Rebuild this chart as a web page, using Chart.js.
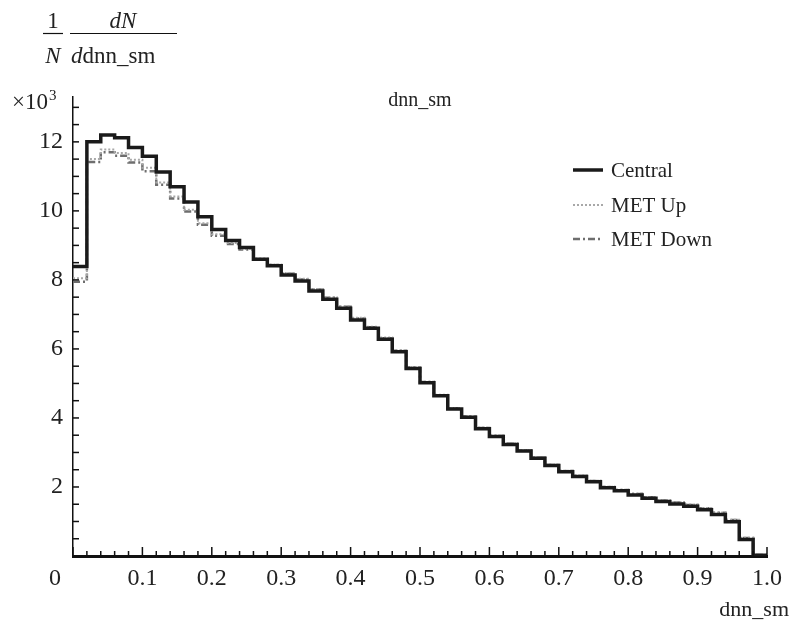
<!DOCTYPE html>
<html>
<head>
<meta charset="utf-8">
<script src="https://cdn.jsdelivr.net/npm/chart.js@4"></script>
<style>
  html, body { margin: 0; padding: 0; background: #fff; }
  #wrap { width: 790px; height: 626px; }
</style>
</head>
<body>
<div id="wrap"><canvas id="chart" width="790" height="626"></canvas></div>
<script>
// 50 bins of width 0.02 on [0, 1]
const binWidth = 0.02;

// per-bin content
const central = [
  8390, 12000, 12200, 12120, 11840, 11580, 11130, 10700, 10260, 9830,
  9460, 9140, 8940, 8600, 8410, 8140, 7970, 7680, 7440, 7180,
  6840, 6600, 6280, 5920, 5430, 5020, 4640, 4260, 4020, 3690,
  3460, 3230, 3040, 2830, 2620, 2440, 2300, 2150, 1980, 1890,
  1770, 1670, 1580, 1510, 1440, 1340, 1200, 990, 480, 20
];
const metUp = [
  8050, 11500, 11780, 11680, 11480, 11250, 10820, 10420, 10030, 9640,
  9320, 9070, 8900, 8620, 8450, 8200, 8030, 7740, 7500, 7240,
  6900, 6640, 6330, 5960, 5470, 5050, 4670, 4290, 4050, 3720,
  3490, 3260, 3070, 2860, 2650, 2470, 2330, 2180, 2010, 1920,
  1810, 1710, 1620, 1560, 1490, 1390, 1260, 1050, 530, 30
];
const metDown = [
  7950, 11420, 11700, 11600, 11400, 11150, 10760, 10360, 9980, 9600,
  9280, 9040, 8880, 8600, 8430, 8180, 8010, 7720, 7480, 7220,
  6880, 6630, 6310, 5950, 5460, 5040, 4660, 4280, 4040, 3710,
  3480, 3250, 3060, 2850, 2640, 2460, 2320, 2170, 2000, 1910,
  1800, 1700, 1610, 1550, 1480, 1380, 1250, 1040, 520, 30
];

const xTicks = [0, 0.1, 0.2, 0.3, 0.4, 0.5, 0.6, 0.7, 0.8, 0.9, 1.0];
const yTicks = [2000, 4000, 6000, 8000, 10000, 12000];

const serif = "'Liberation Serif', 'DejaVu Serif', serif";

// histogram -> points at the bin edges, last edge repeats the last bin
function steps(vals) {
  const pts = vals.map((v, i) => ({ x: i * binWidth, y: v }));
  pts.push({ x: vals.length * binWidth, y: vals[vals.length - 1] });
  return pts;
}

const decor = {
  id: 'decor',
  afterDraw(chart) {
    const ctx = chart.ctx;
    const xs = chart.scales.x, ys = chart.scales.y;
    const area = chart.chartArea;
    ctx.save();
    ctx.strokeStyle = '#111';
    ctx.lineWidth = 1.5;
    ctx.setLineDash([]);
    // inner ticks on x
    for (let i = 0; i <= 50; i++) {
      const px = xs.getPixelForValue(i * binWidth);
      const len = i % 5 === 0 ? 9 : 5;
      ctx.beginPath();
      ctx.moveTo(px, area.bottom);
      ctx.lineTo(px, area.bottom - len);
      ctx.stroke();
    }
    // inner ticks on y
    for (let v = 500; v <= 13000; v += 500) {
      const py = ys.getPixelForValue(v);
      ctx.beginPath();
      ctx.moveTo(area.left, py);
      ctx.lineTo(area.left + 6, py);
      ctx.stroke();
    }

    ctx.fillStyle = '#222';
    ctx.textBaseline = 'alphabetic';
    // y title: 1/N dN/d dnn_sm
    ctx.textAlign = 'center';
    ctx.font = '23px ' + serif;
    ctx.fillText('1', 53, 28);
    ctx.font = 'italic 23px ' + serif;
    ctx.fillText('N', 53, 63);
    ctx.fillText('dN', 123, 28);
    ctx.lineWidth = 1.2;
    ctx.beginPath(); ctx.moveTo(43, 33.5); ctx.lineTo(63, 33.5); ctx.stroke();
    ctx.beginPath(); ctx.moveTo(70, 33.5); ctx.lineTo(177, 33.5); ctx.stroke();
    ctx.textAlign = 'left';
    ctx.fillText('d', 71, 63);
    const dw = ctx.measureText('d').width;
    ctx.font = '23px ' + serif;
    ctx.fillText('dnn_sm', 71 + dw, 63);

    // x10^3
    ctx.font = '23px ' + serif;
    ctx.fillText('\u00d710', 12, 109);
    const mw = ctx.measureText('\u00d710').width;
    ctx.font = '15px ' + serif;
    ctx.fillText('3', 12 + mw + 1, 100);

    // title
    ctx.textAlign = 'center';
    ctx.font = '20px ' + serif;
    ctx.fillText('dnn_sm', 420, 106);

    // x title
    ctx.textAlign = 'right';
    ctx.font = '22px ' + serif;
    ctx.fillText('dnn_sm', 789, 616);

    // legend
    const rows = [170, 205, 239];
    chart.data.datasets.forEach((ds, i) => {
      const y = rows[i];
      ctx.strokeStyle = ds.borderColor;
      ctx.lineWidth = ds.borderWidth;
      ctx.setLineDash(ds.borderDash || []);
      ctx.beginPath();
      ctx.moveTo(573, y);
      ctx.lineTo(603, y);
      ctx.stroke();
      ctx.setLineDash([]);
      ctx.fillStyle = '#222';
      ctx.textAlign = 'left';
      ctx.textBaseline = 'middle';
      ctx.font = '21px ' + serif;
      ctx.fillText(ds.label, 611, y + 1);
    });
    ctx.restore();
  }
};

new Chart(document.getElementById('chart'), {
  type: 'line',
  data: {
    datasets: [
      {
        label: 'Central',
        data: steps(central),
        stepped: 'before',
        borderColor: '#1a1a1a',
        borderWidth: 3.5,
        pointRadius: 0,
        fill: false
      },
      {
        label: 'MET Up',
        data: steps(metUp),
        stepped: 'before',
        borderColor: '#a8a8a8',
        borderWidth: 2,
        borderDash: [2, 2],
        pointRadius: 0,
        fill: false
      },
      {
        label: 'MET Down',
        data: steps(metDown),
        stepped: 'before',
        borderColor: '#6e6e6e',
        borderWidth: 2.5,
        borderDash: [7, 3, 2, 3],
        pointRadius: 0,
        fill: false
      }
    ]
  },
  options: {
    responsive: false,
    animation: false,
    devicePixelRatio: 1,
    layout: { padding: { top: 97, right: 19, left: 0, bottom: 0 } },
    plugins: {
      legend: { display: false },
      tooltip: { enabled: false },
      title: { display: false }
    },
    scales: {
      x: {
        type: 'linear',
        min: 0,
        max: 1,
        afterBuildTicks: (s) => { s.ticks = xTicks.map(v => ({ value: v })); },
        afterFit: (s) => { s.height = 70; },
        ticks: {
          callback: (v) => v === 0 ? '0\u2003\u2002' : v.toFixed(1),
          font: { family: serif, size: 24 },
          color: '#222',
          maxRotation: 0,
          autoSkip: false,
          padding: 8
        },
        grid: { display: false, drawTicks: false },
        border: { display: true, width: 3, color: '#111' }
      },
      y: {
        type: 'linear',
        min: 0,
        max: 13300,
        afterBuildTicks: (s) => { s.ticks = yTicks.map(v => ({ value: v })); },
        afterFit: (s) => { s.width = 73; },
        ticks: {
          callback: (v) => String(v / 1000),
          font: { family: serif, size: 24 },
          color: '#222',
          padding: 10
        },
        grid: { display: false, drawTicks: false },
        border: { display: true, width: 1.5, color: '#111' }
      }
    }
  },
  plugins: [decor]
});
</script>
</body>
</html>
